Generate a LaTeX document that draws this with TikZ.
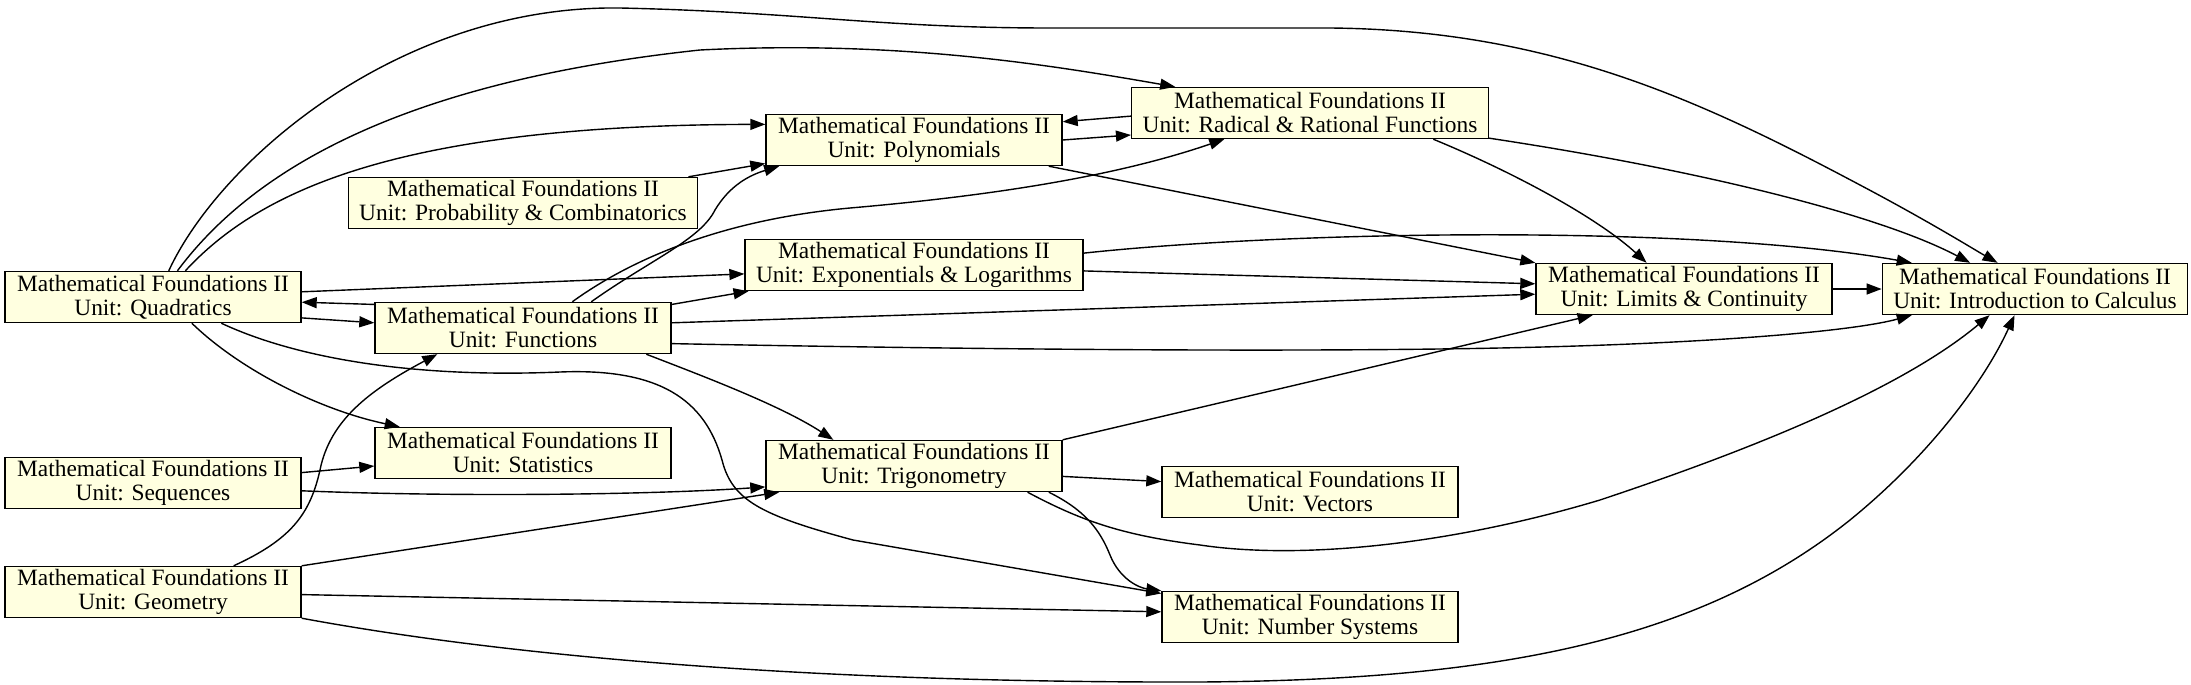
\documentclass[tikz,border=0pt]{standalone}
\usepackage{fontspec}
\setmainfont{Liberation Serif}
\usetikzlibrary{arrows.meta}
\definecolor{noteyellow}{HTML}{FFFFE0}

\begin{document}
\begin{tikzpicture}[x=0.5pt, y=-0.5pt,
    topic/.style={rectangle, draw, fill=noteyellow, line width=0.7pt,
      minimum width=148pt, minimum height=25.5pt, inner xsep=5.5pt, inner ysep=0pt,
      align=center, font=\fontsize{11.7}{12}\selectfont},
    dep/.style={line width=0.7pt, -{Triangle[length=7.5pt, width=5.5pt]}}]
  \useasboundingbox (0,0) rectangle (2191,685);
  % units
  \node[topic] (quad) at (153,297) {Mathematical Foundations II\\Unit: Quadratics};
  \node[topic] (prob) at (523,203) {Mathematical Foundations II\\Unit: Probability \& Combinatorics};
  \node[topic] (func) at (523,328) {Mathematical Foundations II\\Unit: Functions};
  \node[topic] (stat) at (523,453) {Mathematical Foundations II\\Unit: Statistics};
  \node[topic] (sequ) at (153,483) {Mathematical Foundations II\\Unit: Sequences};
  \node[topic] (geom) at (153,592) {Mathematical Foundations II\\Unit: Geometry};
  \node[topic] (poly) at (914,140) {Mathematical Foundations II\\Unit: Polynomials};
  \node[topic] (expo) at (914,265) {Mathematical Foundations II\\Unit: Exponentials \& Logarithms};
  \node[topic] (trig) at (914,466) {Mathematical Foundations II\\Unit: Trigonometry};
  \node[topic] (radi) at (1310,113) {Mathematical Foundations II\\Unit: Radical \& Rational Functions};
  \node[topic] (vect) at (1310,492) {Mathematical Foundations II\\Unit: Vectors};
  \node[topic] (nums) at (1310,617) {Mathematical Foundations II\\Unit: Number Systems};
  \node[topic] (limi) at (1684,289) {Mathematical Foundations II\\Unit: Limits \& Continuity};
  \node[topic] (calc) at (2035,289) {Mathematical Foundations II\\Unit: Introduction to Calculus};
  % from quadratics
  \draw[dep] (quad.59) .. controls (220,160) and (400,5) .. (620,8)
    .. controls (800,12) and (880,28) .. (1050,28) -- (1330,28)
    .. controls (1550,30) and (1700,100) .. (1860,185)
    .. controls (1930,222) and (1975,250) .. (calc.145);
  \draw[dep] (quad.47) .. controls (260,160) and (420,80) .. (700,50)
    .. controls (900,40) and (1050,65) .. (radi.169);
  \draw[dep] (quad.39) .. controls (260,190) and (400,125) .. (poly.174);
  \draw[dep] (quad.2) -- (expo.183);
  \draw[dep] (quad.-8) -- (func.178);
  \draw[dep] (func.171) -- (quad.-2);
  \draw[dep] (quad.-34) .. controls (240,370) and (320,410) .. (stat.168);
  \draw[dep] (quad.-21) .. controls (300,360) and (420,378) .. (560,372)
    .. controls (660,368) and (705,400) .. (722,460)
    .. controls (732,500) and (760,515) .. (853,540) -- (nums.171);
  % from functions
  \draw[dep] (func.21) .. controls (650,260) and (700,240) .. (715,210)
    .. controls (730,185) and (750,175) .. (poly.191);
  \draw[dep] (func.28) .. controls (630,260) and (720,220) .. (850,208)
    .. controls (1000,195) and (1120,175) .. (radi.197);
  \draw[dep] (func.9) -- (expo.189);
  \draw[dep] (func.2) -- (limi.182);
  \draw[dep] (func.-6) .. controls (1000,350) and (1300,352) .. (1500,348)
    .. controls (1700,344) and (1850,332) .. (calc.192);
  \draw[dep] (func.-12) .. controls (700,375) and (780,405) .. (trig.162);
  % from probability, polynomials, radicals, exponentials
  \draw[dep] (prob.9) -- (poly.189);
  \draw[dep] (poly.0) -- (radi.187);
  \draw[dep] (radi.181) -- (poly.7);
  \draw[dep] (poly.-11) -- (limi.170);
  \draw[dep] (radi.-12) .. controls (1520,175) and (1600,220) .. (limi.145);
  \draw[dep] (radi.-8) .. controls (1700,170) and (1880,215) .. (calc.158);
  \draw[dep] (expo.4) .. controls (1300,230) and (1700,225) .. (calc.168);
  \draw[dep] (expo.-2) -- (limi.178);
  \draw[dep] (limi) -- (calc);
  % from sequences and geometry
  \draw[dep] (sequ.4) -- (stat.185);
  \draw[dep] (sequ.-3) .. controls (450,497) and (650,495) .. (trig.188);
  \draw[dep] (geom.18) .. controls (290,540) and (310,515) .. (320,470)
    .. controls (330,420) and (370,390) .. (func.197);
  \draw[dep] (geom.10) -- (trig.191);
  \draw[dep] (geom.-1) -- (nums.178);
  \draw[dep] (geom.-10) .. controls (500,655) and (800,683) .. (1200,682)
    .. controls (1500,680) and (1700,640) .. (1850,520)
    .. controls (1930,455) and (1985,380) .. (calc.232);
  % from trigonometry
  \draw[dep] (trig.10) -- (limi.196);
  \draw[dep] (trig.-4) -- (vect.176);
  \draw[dep] (trig.-11) .. controls (1085,510) and (1100,530) .. (1110,555)
    .. controls (1120,580) and (1140,588) .. (nums.170);
  \draw[dep] (trig.-13) .. controls (1080,520) and (1120,535) .. (1200,545)
    .. controls (1300,560) and (1450,545) .. (1600,500)
    .. controls (1750,450) and (1900,390) .. (calc.210);
\end{tikzpicture}
\end{document}
